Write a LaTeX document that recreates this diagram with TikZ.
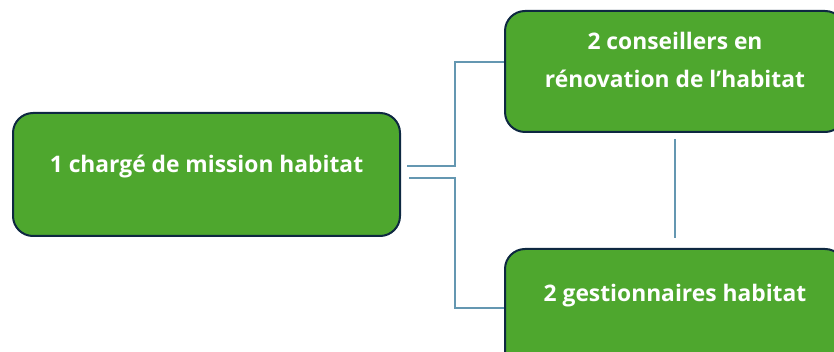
\documentclass[tikz,border=0pt]{standalone}
\usepackage{fontspec}
\setmainfont{Open Sans}
\usepackage{xcolor}
\usepackage{tikz}

\definecolor{vertboite}{HTML}{4EA72E}
\definecolor{bordboite}{HTML}{0E2841}
\definecolor{bleutrait}{HTML}{6497B1}

\begin{document}
\begin{tikzpicture}[x=1pt,y=-1pt,
    boite/.style={draw=bordboite, line width=2pt, fill=vertboite, rounded corners=20pt,
      text=white, font=\bfseries\fontsize{22.8}{34}\selectfont, align=center},
    lien/.style={draw=bleutrait, line width=1.6pt}]
        % Fixe le cadre
        \useasboundingbox (0,0) rectangle (834,352);
        \clip (0,0) rectangle (834,352);

        % Dibuja las cajas
        \node[boite, minimum width=387pt, minimum height=123pt, text height=17pt, text depth=21pt]
          (charge) at (206.5,174.5) {1 chargé de mission habitat};
        \node[boite, minimum width=340pt, minimum height=121pt, text depth=24pt]
          (conseillers) at (675,71.5) {2 conseillers en\\[4pt]rénovation de l’habitat};
        \node[boite, minimum width=340pt, minimum height=121pt, text height=17pt, text depth=33pt]
          (gestionnaires) at (675,309.5) {2 gestionnaires habitat};

        % Dibuja los enlaces
        \draw[lien] ([xshift=6pt,yshift=8.5pt]charge.east) -- ++(48,0) |- ([yshift=9.5pt]conseillers.west);
        \draw[lien] ([xshift=8pt,yshift=-3.5pt]charge.east) -- ++(46,0) |- ([yshift=1.5pt]gestionnaires.west);
        \draw[lien] ([yshift=-6pt]conseillers.south) -- ([yshift=10pt]gestionnaires.north);
    \end{tikzpicture}
\end{document}
